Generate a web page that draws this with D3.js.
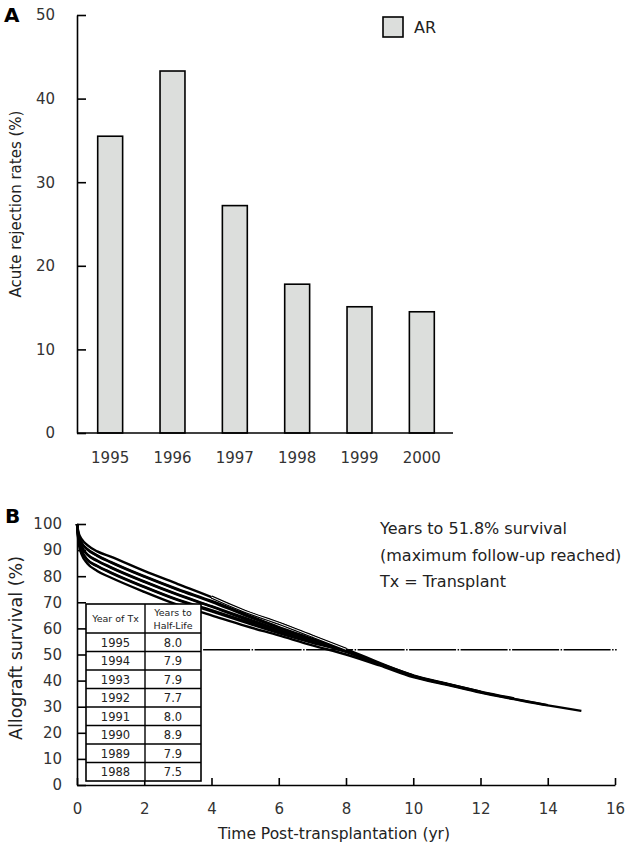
<!DOCTYPE html>
<html>
<head>
<meta charset="utf-8">
<script src="https://cdn.jsdelivr.net/npm/d3@7"></script>
<style>
  html, body { margin: 0; padding: 0; background: #fff; }
  svg { display: block; font-family: "DejaVu Sans", Verdana, sans-serif; }
</style>
</head>
<body>
<svg id="chart" width="630" height="850"></svg>
<script>
// ---------- Panel A data ----------
const arYears = ["1995", "1996", "1997", "1998", "1999", "2000"];
const arRates = [35.5, 43.3, 27.2, 17.8, 15.1, 14.5];
const arTicks = [0, 10, 20, 30, 40, 50];

// ---------- Panel B data ----------
const timePoints = [0, 0.05, 0.15, 0.3, 0.6, 1, 2, 3, 4, 5, 6, 7, 8, 9, 10, 11, 12, 13, 14, 15];
const s1995 = [100, 96.5, 94, 92, 89.5, 87.5, 82, 77, 72, 66.5, 62, 57, 52];
const s1994 = [100, 95.5, 92.5, 90.5, 88, 85.5, 80, 75, 70.5, 65.5, 60.5, 56, 51.5, 46.5];
const s1993 = [100, 95.5, 92.5, 90.3, 87.8, 85.3, 79.8, 74.8, 70.2, 65, 60.2, 55.7, 51.5, 46.5, 42];
const s1992 = [100, 94.5, 91, 88.5, 86, 83.5, 78, 73, 68.5, 64, 59.5, 55, 51, 46.3, 41.8, 38.7];
const s1991 = [100, 94.5, 91, 88.3, 85.8, 83.3, 77.8, 72.8, 68.3, 63.5, 59.2, 55.2, 51.3, 46.3, 41.8, 38.7, 35.8];
const s1990 = [100, 93.5, 89.5, 86.5, 84, 81.5, 76, 71, 67, 62.8, 58.8, 55.3, 52, 46.8, 42, 38.8, 35.8, 33.2];
const s1989 = [100, 93.5, 89.3, 86.3, 83.8, 81.3, 75.8, 70.8, 66.5, 62.3, 58.2, 54.5, 51.2, 46.3, 41.6, 38.6, 35.6, 33, 30.6];
const s1988 = [100, 92.5, 88, 85, 82, 79.5, 74, 69, 65, 61, 57.3, 53.5, 50, 45.8, 41.3, 38.4, 35.4, 32.9, 30.5, 28.4];
const survivalSeries = [s1995, s1994, s1993, s1992, s1991, s1990, s1989, s1988];

const txYears = ["1995", "1994", "1993", "1992", "1991", "1990", "1989", "1988"];
const halfLife = ["8.0", "7.9", "7.9", "7.7", "8.0", "8.9", "7.9", "7.5"];
const yTicksB = [0, 10, 20, 30, 40, 50, 60, 70, 80, 90, 100];
const xTicksB = [0, 2, 4, 6, 8, 10, 12, 14, 16];
const refSurvival = 51.8;
const refFrom = 3.75, refTo = 16.05;
const noteLines = ["Years to 51.8% survival", "(maximum follow-up reached)", "Tx = Transplant"];

const svg = d3.select("#chart");
svg.append("rect").attr("width", 630).attr("height", 850).attr("fill", "#fff");
const textCol = "#222";

// ================= Panel A =================
const yA = d3.scaleLinear().domain([0, 50]).range([433, 15]);
const xA = d3.scaleBand().domain(arYears).range([79, 453]).paddingInner(0.6).paddingOuter(0.3);
const axisAx = 77;

const gA = svg.append("g");
gA.append("text").attr("x", 4).attr("y", 22).attr("font-size", 20).attr("font-weight", "bold")
  .attr("fill", "#000").text("A");

gA.selectAll("rect.bar").data(arRates).join("rect").attr("class", "bar")
  .attr("x", (d, i) => xA(arYears[i]))
  .attr("y", d => yA(d))
  .attr("width", xA.bandwidth())
  .attr("height", d => yA(0) - yA(d))
  .attr("fill", "#dcdedc").attr("stroke", "#000").attr("stroke-width", 1.6);

const yAxisA = d3.axisLeft(yA).tickValues(arTicks).tickSizeInner(-9).tickSizeOuter(0).tickPadding(22);
gA.append("g").attr("transform", `translate(${axisAx},0)`).call(yAxisA)
  .call(g => g.select(".domain").attr("stroke", "#000").attr("stroke-width", 1.6))
  .call(g => g.selectAll(".tick line").attr("stroke", "#000").attr("stroke-width", 1.6))
  .call(g => g.selectAll(".tick text").attr("font-size", 15).attr("fill", "#333")
    .attr("font-family", "DejaVu Sans"));

const xAxisA = d3.axisBottom(xA).tickSize(0).tickPadding(19);
gA.append("g").attr("transform", `translate(0,${yA(0)})`).call(xAxisA)
  .call(g => g.select(".domain").attr("d", `M${axisAx},0H${xA.range()[1]}`)
    .attr("stroke", "#000").attr("stroke-width", 1.6))
  .call(g => g.selectAll(".tick text").attr("font-size", 15).attr("fill", "#333")
    .attr("font-family", "DejaVu Sans"));

gA.append("text").attr("transform", `translate(21,204) rotate(-90)`)
  .attr("text-anchor", "middle").attr("font-size", 15).attr("fill", textCol)
  .text("Acute rejection rates (%)");

// legend
gA.append("rect").attr("x", 383).attr("y", 17).attr("width", 20).attr("height", 20)
  .attr("fill", "#dcdedc").attr("stroke", "#000").attr("stroke-width", 1.6);
gA.append("text").attr("x", 414).attr("y", 33).attr("font-size", 16).attr("fill", textCol).text("AR");

// ================= Panel B =================
const xB = d3.scaleLinear().domain([0, 16]).range([77, 615]);
const yB = d3.scaleLinear().domain([0, 100]).range([785, 524]);
const gB = svg.append("g");

gB.append("text").attr("x", 5).attr("y", 523).attr("font-size", 20).attr("font-weight", "bold")
  .attr("fill", "#000").text("B");

const yAxisB = d3.axisLeft(yB).tickValues(yTicksB).tickSizeInner(-9).tickSizeOuter(0).tickPadding(15);
gB.append("g").attr("transform", `translate(${xB(0)},0)`).call(yAxisB)
  .call(g => g.select(".domain").attr("stroke", "#000").attr("stroke-width", 1.6))
  .call(g => g.selectAll(".tick line").attr("stroke", "#000").attr("stroke-width", 1.6))
  .call(g => g.selectAll(".tick text").attr("font-size", 15).attr("fill", "#333")
    .attr("font-family", "DejaVu Sans"));

const xAxisB = d3.axisBottom(xB).tickValues(xTicksB).tickSizeInner(-7).tickSizeOuter(0).tickPadding(18);
gB.append("g").attr("transform", `translate(0,${yB(0)})`).call(xAxisB)
  .call(g => g.select(".domain").attr("stroke", "#000").attr("stroke-width", 1.6))
  .call(g => g.selectAll(".tick line").attr("stroke", "#000").attr("stroke-width", 1.6))
  .call(g => g.selectAll(".tick text").attr("font-size", 15).attr("fill", "#333")
    .attr("font-family", "DejaVu Sans"));

gB.append("text").attr("transform", `translate(22,648) rotate(-90)`)
  .attr("text-anchor", "middle").attr("font-size", 17.5).attr("fill", textCol)
  .text("Allograft survival (%)");
gB.append("text").attr("x", 334).attr("y", 839).attr("text-anchor", "middle")
  .attr("font-size", 15.5).attr("fill", textCol).text("Time Post-transplantation (yr)");

// reference dash-dot line
gB.append("line")
  .attr("x1", xB(refFrom)).attr("x2", xB(refTo))
  .attr("y1", yB(refSurvival)).attr("y2", yB(refSurvival))
  .attr("stroke", "#000").attr("stroke-width", 1.4)
  .attr("stroke-dasharray", "47,1.5,1.5,1.5");

// survival curves
const line = d3.line().x(d => xB(d[0])).y(d => yB(d[1])).curve(d3.curveMonotoneX);
const seriesPts = survivalSeries.map(s => s.map((v, i) => [timePoints[i], v]));
gB.selectAll("path.curve").data(seriesPts).join("path").attr("class", "curve")
  .attr("d", line).attr("fill", "none").attr("stroke", "#000").attr("stroke-width", 2.4)
  .attr("stroke-linejoin", "round");
// hollow look of most recent cohort
gB.append("path").attr("d", line(seriesPts[0].filter(p => p[0] >= 4))).attr("fill", "none")
  .attr("stroke", "#000").attr("stroke-width", 3.2);
gB.append("path").attr("d", line(seriesPts[0].filter(p => p[0] >= 4))).attr("fill", "none")
  .attr("stroke", "#fff").attr("stroke-width", 1);

// notes
gB.selectAll("text.note").data(noteLines).join("text").attr("class", "note")
  .attr("x", 380).attr("y", (d, i) => 534 + i * 26.5)
  .attr("font-size", 16).attr("fill", textCol).text(d => d);

// table
const tblX0 = 86, tblX1 = 145, tblX2 = 201, tblTop = 604, tblHead = 633, tblBottom = 781;
const rowY = d3.scaleBand().domain(txYears).range([tblHead, tblBottom]);
const tbl = gB.append("g");
tbl.append("rect").attr("x", tblX0).attr("y", tblTop).attr("width", tblX2 - tblX0)
  .attr("height", tblBottom - tblTop).attr("fill", "#fff").attr("stroke", "#000").attr("stroke-width", 1.6);
tbl.append("line").attr("x1", tblX1).attr("x2", tblX1).attr("y1", tblTop).attr("y2", tblBottom)
  .attr("stroke", "#000").attr("stroke-width", 1.4);
tbl.selectAll("line.row").data(txYears).join("line").attr("class", "row")
  .attr("x1", tblX0).attr("x2", tblX2)
  .attr("y1", d => rowY(d)).attr("y2", d => rowY(d))
  .attr("stroke", "#000").attr("stroke-width", 1.4);
tbl.append("text").attr("x", (tblX0 + tblX1) / 2).attr("y", 622).attr("text-anchor", "middle")
  .attr("font-size", 9.5).attr("fill", textCol).text("Year of Tx");
tbl.append("text").attr("x", (tblX1 + tblX2) / 2).attr("y", 616).attr("text-anchor", "middle")
  .attr("font-size", 9.5).attr("fill", textCol).text("Years to");
tbl.append("text").attr("x", (tblX1 + tblX2) / 2).attr("y", 629).attr("text-anchor", "middle")
  .attr("font-size", 9.5).attr("fill", textCol).text("Half-Life");
tbl.selectAll("text.yr").data(txYears).join("text").attr("class", "yr")
  .attr("x", (tblX0 + tblX1) / 2).attr("y", d => rowY(d) + rowY.bandwidth() / 2 + 4.5)
  .attr("text-anchor", "middle").attr("font-size", 11.5).attr("fill", textCol).text(d => d);
tbl.selectAll("text.hl").data(halfLife).join("text").attr("class", "hl")
  .attr("x", (tblX1 + tblX2) / 2).attr("y", (d, i) => rowY(txYears[i]) + rowY.bandwidth() / 2 + 4.5)
  .attr("text-anchor", "middle").attr("font-size", 11.5).attr("fill", textCol).text(d => d);
</script>
</body>
</html>
